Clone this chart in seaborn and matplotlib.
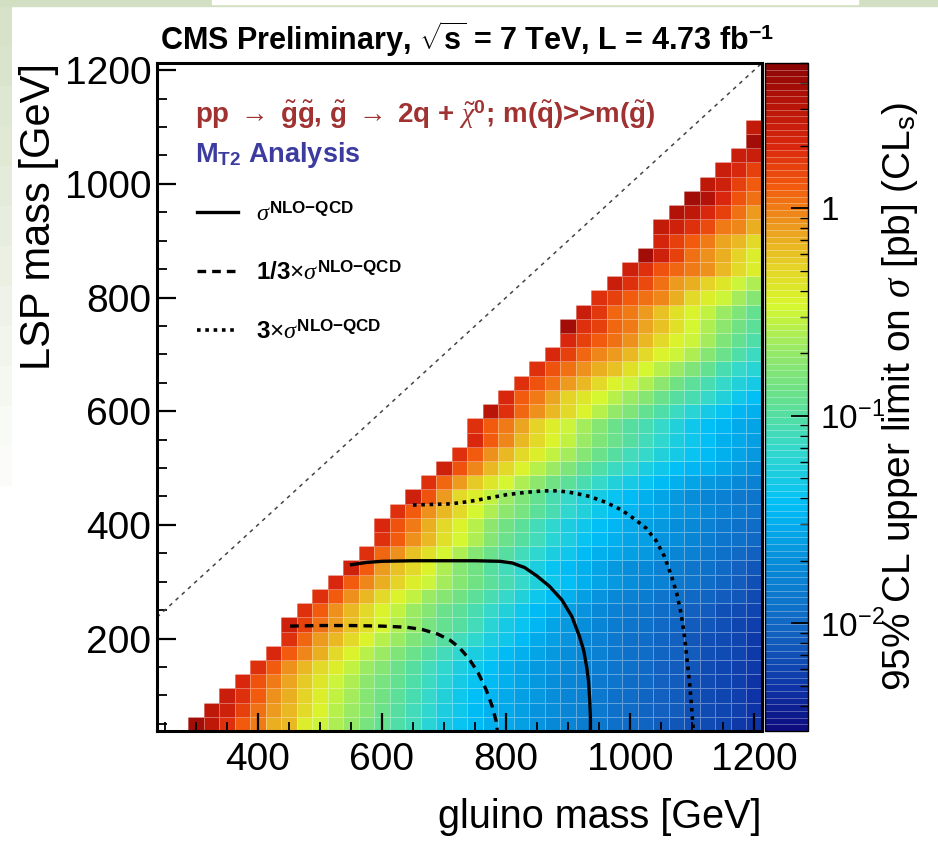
import numpy as np
import pandas as pd
import matplotlib
matplotlib.use("Agg")
import matplotlib.pyplot as plt
import seaborn as sns
from matplotlib import ticker
from matplotlib.colors import LinearSegmentedColormap, LogNorm
from matplotlib.lines import Line2D
from matplotlib.patches import Rectangle

plt.rcParams["font.family"] = ["Liberation Sans", "DejaVu Sans"]
plt.rcParams["mathtext.fontset"] = "custom"
plt.rcParams["mathtext.rm"] = "Liberation Sans"
plt.rcParams["mathtext.sf"] = "Liberation Sans"
plt.rcParams["mathtext.bf"] = "Liberation Sans:bold"
plt.rcParams["mathtext.it"] = "Liberation Serif:italic"

# scan grid [GeV]
gluino_mass = list(range(250, 1201, 25))
lsp_mass = list(range(50, 1201, 25))

# log10 of the 95% CL upper limit [pb], one row per LSP mass (50, 75, ... 1100)
# every row ends at m(gluino) = 1200, cells before the row start are empty
limit_log10 = [
    [0.6, 0.45, 0.25, 0.1, 0.0, -0.15, -0.2, -0.4, -0.5, -0.62, -0.7, -0.82, -0.92, -1.02, -1.1, -1.2, -1.3, -1.38, -1.45, -1.5, -1.55, -1.6, -1.66, -1.72, -1.77, -1.82, -1.87, -1.92, -1.97, -2.02, -2.07, -2.11, -2.15, -2.19, -2.23, -2.27, -2.3],
    [0.45, 0.35, 0.2, 0.05, -0.1, -0.18, -0.32, -0.45, -0.58, -0.68, -0.78, -0.88, -0.98, -1.08, -1.18, -1.28, -1.36, -1.43, -1.49, -1.54, -1.6, -1.66, -1.71, -1.76, -1.81, -1.86, -1.91, -1.96, -2.01, -2.06, -2.1, -2.14, -2.18, -2.22, -2.26, -2.3],
    [0.4, 0.25, 0.1, -0.05, -0.15, -0.28, -0.42, -0.55, -0.65, -0.75, -0.85, -0.95, -1.05, -1.15, -1.25, -1.33, -1.4, -1.47, -1.53, -1.59, -1.65, -1.7, -1.76, -1.81, -1.86, -1.91, -1.96, -2.01, -2.06, -2.1, -2.15, -2.19, -2.23, -2.26, -2.3],
    [0.3, 0.15, 0.0, -0.12, -0.25, -0.38, -0.5, -0.62, -0.72, -0.82, -0.92, -1.02, -1.12, -1.22, -1.3, -1.38, -1.45, -1.52, -1.58, -1.63, -1.69, -1.75, -1.8, -1.85, -1.9, -1.95, -2.0, -2.05, -2.1, -2.14, -2.18, -2.22, -2.26, -2.3],
    [0.25, 0.1, -0.05, -0.18, -0.3, -0.42, -0.55, -0.68, -0.78, -0.88, -0.98, -1.08, -1.18, -1.27, -1.35, -1.42, -1.5, -1.56, -1.62, -1.68, -1.74, -1.79, -1.84, -1.89, -1.94, -1.99, -2.04, -2.09, -2.13, -2.17, -2.21, -2.25, -2.29],
    [0.3, 0.12, -0.03, -0.15, -0.3, -0.45, -0.58, -0.68, -0.8, -0.9, -1.0, -1.08, -1.17, -1.27, -1.36, -1.44, -1.52, -1.58, -1.64, -1.7, -1.76, -1.81, -1.86, -1.91, -1.96, -2.01, -2.06, -2.1, -2.15, -2.19, -2.23, -2.27],
    [0.25, 0.08, -0.08, -0.18, -0.32, -0.45, -0.58, -0.68, -0.8, -0.9, -1.0, -1.08, -1.17, -1.27, -1.36, -1.45, -1.53, -1.61, -1.68, -1.75, -1.81, -1.86, -1.91, -1.96, -2.01, -2.06, -2.11, -2.15, -2.19, -2.23, -2.27],
    [0.35, 0.2, 0.03, -0.1, -0.22, -0.35, -0.48, -0.6, -0.7, -0.82, -0.92, -1.0, -1.1, -1.2, -1.3, -1.39, -1.48, -1.56, -1.64, -1.71, -1.77, -1.83, -1.88, -1.93, -1.98, -2.03, -2.08, -2.12, -2.16, -2.2, -2.24],
    [0.25, 0.1, -0.05, -0.18, -0.3, -0.43, -0.55, -0.67, -0.78, -0.88, -0.97, -1.06, -1.16, -1.26, -1.35, -1.44, -1.52, -1.6, -1.67, -1.74, -1.8, -1.85, -1.9, -1.95, -2.0, -2.05, -2.1, -2.14, -2.18, -2.22],
    [0.25, 0.1, -0.05, -0.18, -0.3, -0.43, -0.55, -0.67, -0.77, -0.87, -0.96, -1.05, -1.15, -1.25, -1.34, -1.43, -1.51, -1.59, -1.66, -1.72, -1.78, -1.83, -1.88, -1.93, -1.98, -2.03, -2.08, -2.13, -2.18],
    [0.3, 0.12, -0.03, -0.15, -0.28, -0.4, -0.52, -0.64, -0.75, -0.85, -0.95, -1.05, -1.15, -1.24, -1.33, -1.41, -1.49, -1.56, -1.63, -1.69, -1.75, -1.8, -1.85, -1.9, -1.96, -2.02, -2.08, -2.14],
    [0.35, 0.1, -0.1, -0.22, -0.32, -0.45, -0.6, -0.75, -0.87, -0.98, -1.08, -1.18, -1.28, -1.37, -1.45, -1.52, -1.58, -1.64, -1.69, -1.74, -1.79, -1.84, -1.89, -1.94, -2.0, -2.06, -2.12],
    [0.25, 0.08, -0.07, -0.22, -0.35, -0.48, -0.62, -0.76, -0.88, -1.0, -1.1, -1.19, -1.28, -1.36, -1.43, -1.49, -1.55, -1.6, -1.65, -1.7, -1.75, -1.8, -1.86, -1.92, -1.98, -2.04],
    [0.25, 0.1, -0.05, -0.2, -0.34, -0.48, -0.62, -0.76, -0.88, -1.0, -1.1, -1.2, -1.29, -1.37, -1.44, -1.5, -1.56, -1.61, -1.66, -1.71, -1.76, -1.82, -1.88, -1.94, -2.0],
    [0.3, 0.15, 0.0, -0.15, -0.3, -0.44, -0.58, -0.72, -0.85, -0.97, -1.08, -1.18, -1.27, -1.35, -1.42, -1.48, -1.54, -1.59, -1.64, -1.69, -1.74, -1.79, -1.85, -1.91, -1.97],
    [0.25, 0.1, -0.05, -0.2, -0.33, -0.46, -0.6, -0.72, -0.84, -0.96, -1.07, -1.17, -1.26, -1.34, -1.41, -1.47, -1.53, -1.58, -1.63, -1.68, -1.73, -1.78, -1.84, -1.9],
    [0.35, 0.15, -0.1, -0.3, -0.42, -0.53, -0.66, -0.8, -0.93, -1.05, -1.15, -1.24, -1.32, -1.39, -1.45, -1.51, -1.57, -1.63, -1.69, -1.75, -1.8, -1.85, -1.9],
    [0.25, 0.08, -0.1, -0.25, -0.37, -0.48, -0.6, -0.72, -0.85, -0.97, -1.07, -1.16, -1.24, -1.31, -1.38, -1.44, -1.5, -1.56, -1.62, -1.68, -1.73, -1.8],
    [0.35, 0.15, -0.03, -0.2, -0.32, -0.44, -0.56, -0.68, -0.8, -0.92, -1.02, -1.11, -1.19, -1.27, -1.34, -1.4, -1.46, -1.52, -1.58, -1.64, -1.7],
    [0.25, 0.1, -0.05, -0.18, -0.3, -0.42, -0.53, -0.65, -0.77, -0.88, -0.98, -1.08, -1.16, -1.24, -1.31, -1.38, -1.44, -1.5, -1.56, -1.62],
    [0.3, 0.12, -0.03, -0.17, -0.3, -0.43, -0.54, -0.66, -0.79, -0.9, -1.0, -1.09, -1.18, -1.27, -1.35, -1.42, -1.49, -1.55, -1.61],
    [0.25, 0.1, 0.0, -0.13, -0.27, -0.4, -0.5, -0.63, -0.76, -0.88, -0.98, -1.07, -1.16, -1.25, -1.33, -1.4, -1.47, -1.53, -1.58],
    [0.5, 0.25, 0.07, -0.05, -0.17, -0.3, -0.44, -0.57, -0.69, -0.8, -0.92, -1.03, -1.13, -1.23, -1.32, -1.39, -1.46, -1.52],
    [0.3, 0.12, 0.0, -0.12, -0.27, -0.37, -0.47, -0.57, -0.67, -0.77, -0.88, -0.99, -1.07, -1.16, -1.25, -1.33, -1.4],
    [0.25, 0.15, 0.03, -0.1, -0.18, -0.3, -0.43, -0.52, -0.62, -0.74, -0.85, -0.95, -1.05, -1.15, -1.24, -1.32],
    [0.25, 0.15, 0.05, -0.05, -0.15, -0.22, -0.35, -0.48, -0.58, -0.67, -0.8, -0.93, -1.04, -1.15, -1.23],
    [0.3, 0.2, 0.07, -0.02, -0.08, -0.17, -0.3, -0.43, -0.52, -0.62, -0.76, -0.9, -1.02, -1.12],
    [0.3, 0.2, 0.12, 0.03, -0.06, -0.2, -0.3, -0.43, -0.52, -0.65, -0.8, -0.93, -1.03],
    [0.6, 0.28, 0.2, 0.07, 0.0, -0.13, -0.22, -0.35, -0.48, -0.6, -0.73, -0.85, -0.97],
    [0.4, 0.22, 0.08, 0.0, -0.1, -0.23, -0.35, -0.45, -0.55, -0.66, -0.8, -0.92],
    [0.28, 0.2, 0.1, 0.04, -0.02, -0.15, -0.3, -0.42, -0.5, -0.63, -0.75],
    [0.4, 0.25, 0.18, 0.05, -0.08, -0.16, -0.28, -0.37, -0.5, -0.6],
    [0.35, 0.25, 0.15, 0.07, 0.0, -0.05, -0.17, -0.3, -0.42],
    [0.58, 0.35, 0.2, 0.03, -0.05, -0.15, -0.28, -0.4],
    [0.32, 0.2, 0.1, 0.0, -0.12, -0.2, -0.32],
    [0.42, 0.35, 0.25, 0.18, 0.02, -0.02, -0.15],
    [0.52, 0.45, 0.3, 0.2, 0.05, -0.08],
    [0.58, 0.52, 0.3, 0.15, 0.05],
    [0.45, 0.35, 0.2, 0.1],
    [0.38, 0.3, 0.2],
    [0.4, 0.38],
    [0.6],
    [0.42],
]

# exclusion contours: (gluino mass, LSP mass) [GeV]
nlo_gluino = [551, 575, 600, 650, 700, 750, 790, 810, 830, 850, 870, 890, 906, 918, 925, 930, 933, 935, 936, 936]
nlo_lsp = [330, 334, 336, 337, 337, 337, 336, 333, 325, 310, 292, 268, 239, 205, 180, 150, 125, 90, 60, 37.5]
third_gluino = [452, 500, 550, 600, 640, 665, 690, 710, 725, 740, 755, 768, 778, 784, 786]
third_lsp = [222, 223, 223, 222, 220, 216, 208, 197, 184, 165, 140, 110, 80, 55, 37.5]
triple_gluino = [650, 680, 710, 740, 770, 800, 830, 860, 885, 910, 935, 960, 985, 1005, 1025, 1042,
                 1055, 1066, 1075, 1082, 1088, 1092, 1096, 1099, 1101, 1102]
triple_lsp = [435, 436, 437, 441, 447, 453, 457, 460, 460, 456, 450, 440, 427, 412, 395, 372,
              345, 312, 280, 245, 200, 160, 120, 80, 50, 37.5]
# m(LSP) = m(gluino)
diag_mass = [237.5, 1212.5]

# build the limit table
grid = np.full((len(lsp_mass), len(gluino_mass)), np.nan)
for i, row in enumerate(limit_log10):
    grid[i, len(gluino_mass) - len(row):] = row
limits = pd.DataFrame(10 ** grid, index=lsp_mass, columns=gluino_mass)

# ROOT-like rainbow palette
palette = [
    (0.00, (0.05, 0.05, 0.50)),
    (0.06, (0.05, 0.20, 0.65)),
    (0.14, (0.07, 0.38, 0.75)),
    (0.25, (0.03, 0.55, 0.85)),
    (0.34, (0.00, 0.75, 0.97)),
    (0.42, (0.20, 0.85, 0.80)),
    (0.50, (0.40, 0.88, 0.55)),
    (0.58, (0.62, 0.92, 0.38)),
    (0.64, (0.85, 0.97, 0.18)),
    (0.70, (0.90, 0.82, 0.15)),
    (0.76, (0.93, 0.60, 0.12)),
    (0.82, (0.95, 0.35, 0.05)),
    (0.88, (0.85, 0.15, 0.05)),
    (0.95, (0.70, 0.07, 0.03)),
    (1.00, (0.55, 0.02, 0.02)),
]
cmap = LinearSegmentedColormap.from_list("root_rainbow", palette, N=100)
norm = LogNorm(vmin=10 ** -2.52, vmax=10 ** 0.7)

fig = plt.figure(figsize=(9.38, 8.43), dpi=100)

# slide background bits (green frame of the screenshot)
green = "#d3dfc2"
fig.patches.append(Rectangle((0, 1 - 6 / 843), 1, 6 / 843, transform=fig.transFigure,
                             color=green, zorder=-10))
fig.patches.append(Rectangle((212 / 938, 1 - 4 / 843), 646 / 938, 4 / 843, transform=fig.transFigure,
                             color="white", zorder=-9))
for k in range(12):
    fig.patches.append(Rectangle((0, 1 - (6 + 40 * (k + 1)) / 843), 12 / 938, 40 / 843,
                                 transform=fig.transFigure, color=green,
                                 alpha=0.9 - 0.075 * k, lw=0, zorder=-10))

rect = [157 / 938, 1 - 731 / 843, 605 / 938, 668 / 843]
ax = fig.add_axes(rect)
cax = fig.add_axes([765 / 938, 1 - 731 / 843, 43 / 938, 668 / 843])

sns.heatmap(limits, ax=ax, cbar_ax=cax, cmap=cmap, norm=norm,
            linewidths=0.5, linecolor=(1, 1, 1, 0.35),
            xticklabels=False, yticklabels=False,
            cbar_kws={"drawedges": True})
ax.invert_yaxis()
ax.set_xlabel("")
ax.set_ylabel("")

# overlay in mass coordinates
ov = fig.add_axes(rect, facecolor="none")
ov.set_xlim(237.5, 1212.5)
ov.set_ylim(37.5, 1212.5)

ov.plot(diag_mass, diag_mass, color="#444444", lw=1.1, ls=(0, (2.5, 3)))
ov.plot(nlo_gluino, nlo_lsp, color="black", lw=2.4, ls="-")
ov.plot(third_gluino, third_lsp, color="black", lw=2.4, ls=(0, (2.6, 1.8)))
ov.plot(triple_gluino, triple_lsp, color="black", lw=2.6, ls=(0, (1.0, 1.3)))

for s in ov.spines.values():
    s.set_linewidth(2.2)
ov.xaxis.set_major_locator(ticker.MultipleLocator(200))
ov.xaxis.set_minor_locator(ticker.MultipleLocator(50))
ov.yaxis.set_major_locator(ticker.MultipleLocator(200))
ov.yaxis.set_minor_locator(ticker.MultipleLocator(50))
ov.tick_params(which="both", direction="in", top=False, right=False, labelsize=28)
ov.tick_params(axis="x", which="major", length=13, width=1.6, pad=8)
ov.tick_params(axis="x", which="minor", length=6.5, width=1.3)
ov.tick_params(axis="y", which="major", length=14, width=1.6, pad=4)
ov.tick_params(axis="y", which="minor", length=7, width=1.3)
ov.set_xlabel("gluino mass [GeV]", fontsize=28.5, loc="right", labelpad=14)
ov.set_ylabel("LSP mass [GeV]", fontsize=30, loc="top", labelpad=4)

ov.text(0.063, 0.922,
        r"pp $\rightarrow$ $\tilde{\mathbf{g}}\tilde{\mathbf{g}}$, $\tilde{\mathbf{g}}$ $\rightarrow$ 2q + "
        r"$\tilde{\chi}^{\mathbf{0}}$; m($\tilde{\mathbf{q}}$)>>m($\tilde{\mathbf{g}}$)",
        transform=ov.transAxes, fontsize=20, fontweight="bold", color="#a03232",
        ha="left", va="center")
ov.text(0.063, 0.862, r"M$_{\mathbf{T2}}$ Analysis", transform=ov.transAxes,
        fontsize=19.5, fontweight="bold", color="#3c3ca0", ha="left", va="center")

handles = [
    Line2D([], [], color="black", lw=2.4, ls="-"),
    Line2D([], [], color="black", lw=2.4, ls=(0, (2.6, 1.8))),
    Line2D([], [], color="black", lw=2.6, ls=(0, (1.0, 1.3))),
]
labels = [
    r"$\sigma^{\mathbf{NLO{-}QCD}}$",
    r"1/3$\times\sigma^{\mathbf{NLO{-}QCD}}$",
    r"3$\times\sigma^{\mathbf{NLO{-}QCD}}$",
]
ov.legend(handles, labels, loc="upper left", bbox_to_anchor=(0.066, 0.792),
          frameon=False, borderpad=0, borderaxespad=0, handlelength=1.7,
          handletextpad=0.75, labelspacing=1.45,
          prop={"family": "Liberation Sans", "weight": "bold", "size": 17.5})

# colorbar
cb = ax.collections[0].colorbar
cb.outline.set_linewidth(1.0)
cb.outline.set_edgecolor("black")
cb.dividers.set_color((1, 1, 1, 0.35))
cb.dividers.set_linewidth(0.6)


def cbar_fmt(v, pos):
    e = int(round(np.log10(v)))
    return "1" if e == 0 else r"$\mathdefault{10^{%d}}$" % e


cax.yaxis.set_major_locator(ticker.LogLocator(base=10))
cax.yaxis.set_major_formatter(ticker.FuncFormatter(cbar_fmt))
cax.yaxis.set_minor_locator(ticker.LogLocator(base=10, subs=np.arange(2, 10)))
cax.yaxis.set_minor_formatter(ticker.NullFormatter())
cax.tick_params(which="both", direction="in", right=True, left=False, labelsize=24, pad=9)
cax.tick_params(which="major", length=12, width=1.3)
cax.tick_params(which="minor", length=6, width=1.0)
cb.set_label(r"95% CL upper limit on $\sigma$ [pb] (CL$_{\mathrm{s}}$)", fontsize=28)
cax.yaxis.set_label_coords(2.68, 0.5)

fig.text(160 / 938, 1 - 50 / 843,
         r"CMS Preliminary, $\sqrt{\mathbf{s}}$ = 7 TeV, L = 4.73 fb$^{\mathbf{-1}}$",
         fontsize=22, fontweight="bold", ha="left", va="baseline")

fig.savefig("out.png", dpi=100)
